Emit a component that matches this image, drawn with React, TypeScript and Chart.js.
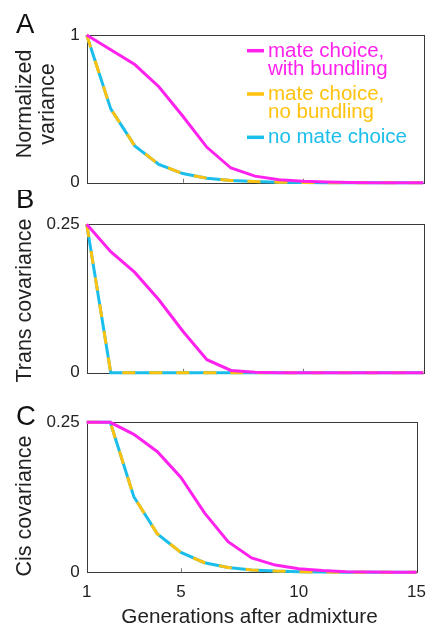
import React, { useEffect, useRef } from 'react';
import { Chart, registerables } from 'chart.js';

Chart.register(...registerables);

// ---------- data ----------
const generations = [1, 2, 3, 4, 5, 6, 7, 8, 9, 10, 11, 12, 13, 14, 15];
const xTickValues = [1, 5, 10, 15];
const xTitle = 'Generations after admixture';

// Panel A: normalized variance
const varWithBundling = [1, 0.9, 0.8, 0.65, 0.45, 0.24, 0.1, 0.045, 0.02, 0.01, 0.005, 0.002, 0.001, 0, 0];
const varNoBundling = [1, 0.5, 0.25, 0.125, 0.0625, 0.031, 0.016, 0.008, 0.004, 0.002, 0.001, 0.0005, 0.0002, 0.0001, 0];
const varNoMateChoice = [1, 0.5, 0.25, 0.125, 0.0625, 0.031, 0.016, 0.008, 0.004, 0.002, 0.001, 0.0005, 0.0002, 0.0001, 0];

// Panel B: trans covariance
const transWithBundling = [0.25, 0.204, 0.169, 0.123, 0.07, 0.022, 0.004, 0.001, 0, 0, 0, 0, 0, 0, 0];
const transNoBundling = [0.25, 0, 0, 0, 0, 0, 0, 0, 0, 0, 0, 0, 0, 0, 0];
const transNoMateChoice = [0.25, 0, 0, 0, 0, 0, 0, 0, 0, 0, 0, 0, 0, 0, 0];

// Panel C: cis covariance
const cisWithBundling = [0.25, 0.25, 0.23, 0.201, 0.158, 0.099, 0.051, 0.024, 0.012, 0.006, 0.003, 0.001, 0.0005, 0, 0];
const cisNoBundling = [0.25, 0.25, 0.126, 0.064, 0.033, 0.016, 0.008, 0.004, 0.002, 0.001, 0.0005, 0.0002, 0.0001, 0, 0];
const cisNoMateChoice = [0.25, 0.25, 0.126, 0.064, 0.033, 0.016, 0.008, 0.004, 0.002, 0.001, 0.0005, 0.0002, 0.0001, 0, 0];

const legendLabels = [['mate choice,', 'with bundling'], ['mate choice,', 'no bundling'], ['no mate choice']];

// ---------- styles ----------
const MAGENTA = '#ff22ee';
const ORANGE = '#ffc20e';
const CYAN = '#1bbeea';
const FONT = '"Liberation Sans", Arial, Helvetica, sans-serif';
const legendColors = [MAGENTA, ORANGE, CYAN];

type PanelCfg = {
  letter: string;
  letterBaseline: number;
  yTitle: string[];
  yTitleCenter: number;
  yMax: number;
  yTickText: string[];
  top: number;
  height: number;
  padTop: number;
  padBottom: number;
  series: number[][];
  showX: boolean;
  legend: boolean;
};

const panels: PanelCfg[] = [
  {
    letter: 'A', letterBaseline: 33, yTitle: ['Normalized', 'variance'], yTitleCenter: 104, yMax: 1, yTickText: ['0', '1'],
    top: 0, height: 200, padTop: 35, padBottom: 15.7,
    series: [varWithBundling, varNoBundling, varNoMateChoice], showX: false, legend: true,
  },
  {
    letter: 'B', letterBaseline: 18, yTitle: ['Trans covariance'], yTitleCenter: 110.5, yMax: 0.25, yTickText: ['0', '0.25'],
    top: 190, height: 200, padTop: 34.3, padBottom: 16.7,
    series: [transWithBundling, transNoBundling, transNoMateChoice], showX: false, legend: false,
  },
  {
    letter: 'C', letterBaseline: 35, yTitle: ['Cis covariance'], yTitleCenter: 116, yMax: 0.25, yTickText: ['0', '0.25'],
    top: 390, height: 236, padTop: 32.3, padBottom: 0,
    series: [cisWithBundling, cisNoBundling, cisNoMateChoice], showX: true, legend: false,
  },
];

function toPoints(values: number[]) {
  return generations.map((g, i) => ({ x: g, y: values[i] }));
}

function Panel({ cfg }: { cfg: PanelCfg }) {
  const ref = useRef<HTMLCanvasElement | null>(null);
  useEffect(() => {
    if (!ref.current) return;
    const yTicks = [0, cfg.yMax];
    const framePlugin = {
      id: 'frame',
      beforeDatasetsDraw(chart: any) {
        const { ctx, chartArea } = chart;
        const xs = chart.scales.x;
        ctx.save();
        ctx.strokeStyle = '#3a3a3a';
        ctx.lineWidth = 1;
        ctx.strokeRect(Math.round(chartArea.left) + 0.5, Math.round(chartArea.top) + 0.5,
          Math.round(chartArea.right - chartArea.left), Math.round(chartArea.bottom - chartArea.top));
        ctx.strokeStyle = '#777';
        [5, 10].forEach((v) => {
          const px = Math.round(xs.getPixelForValue(v)) + 0.5;
          ctx.beginPath();
          ctx.moveTo(px, chartArea.bottom);
          ctx.lineTo(px, chartArea.bottom - 4);
          ctx.stroke();
        });
        ctx.restore();
      },
      afterDraw(chart: any) {
        const { ctx } = chart;
        ctx.save();
        // panel letter
        ctx.fillStyle = '#111';
        ctx.font = `27.5px ${FONT}`;
        ctx.textBaseline = 'alphabetic';
        ctx.textAlign = 'left';
        ctx.fillText(cfg.letter, 16, cfg.letterBaseline);
        // y-axis title
        ctx.save();
        ctx.translate(25, cfg.yTitleCenter);
        ctx.rotate(-Math.PI / 2);
        ctx.font = `21.5px ${FONT}`;
        ctx.fillStyle = '#222';
        ctx.textAlign = 'center';
        ctx.textBaseline = 'middle';
        cfg.yTitle.forEach((line, i) => ctx.fillText(line, 0, i * 23.5));
        ctx.restore();
        // x-axis title (bottom panel only)
        if (cfg.showX) {
          ctx.font = `20.7px ${FONT}`;
          ctx.fillStyle = '#222';
          ctx.textAlign = 'center';
          ctx.textBaseline = 'alphabetic';
          ctx.fillText(xTitle, 249.5, 233);
        }
        // legend
        if (cfg.legend) {
          ctx.font = `20.5px ${FONT}`;
          ctx.textAlign = 'left';
          ctx.textBaseline = 'alphabetic';
          let y = 56.7;
          legendLabels.forEach((lines, i) => {
            ctx.strokeStyle = legendColors[i];
            ctx.lineWidth = 3.5;
            ctx.beginPath();
            ctx.moveTo(247, y - 6);
            ctx.lineTo(264, y - 6);
            ctx.stroke();
            ctx.fillStyle = legendColors[i];
            lines.forEach((line) => {
              ctx.fillText(line, 268, y);
              y += 18.3;
            });
            y += 6.7;
          });
        }
        ctx.restore();
      },
    };

    const chart = new Chart(ref.current, {
      type: 'line',
      data: {
        datasets: [
          {
            label: 'mate choice, with bundling',
            data: toPoints(cfg.series[0]),
            borderColor: MAGENTA,
            borderWidth: 3,
            pointRadius: 0,
            tension: 0,
            clip: 6,
          },
          {
            label: 'mate choice, no bundling',
            data: toPoints(cfg.series[1]),
            borderColor: ORANGE,
            borderWidth: 3,
            borderDash: [13, 14],
            pointRadius: 0,
            tension: 0,
            clip: 6,
          },
          {
            label: 'no mate choice',
            data: toPoints(cfg.series[2]),
            borderColor: CYAN,
            borderWidth: 3,
            pointRadius: 0,
            tension: 0,
            clip: 6,
          },
        ],
      },
      options: {
        animation: false,
        responsive: false,
        events: [],
        layout: { padding: { left: 0, right: 12.7, top: cfg.padTop, bottom: cfg.padBottom } },
        plugins: { legend: { display: false }, tooltip: { enabled: false } },
        scales: {
          x: {
            type: 'linear',
            min: 1,
            max: 15,
            display: cfg.showX,
            grid: { display: false, drawTicks: false },
            border: { display: false },
            afterBuildTicks: (scale: any) => {
              scale.ticks = xTickValues.map((v) => ({ value: v }));
            },
            afterFit: (scale: any) => {
              if (cfg.showX) scale.height = 236 - 182.3;
            },
            ticks: {
              color: '#222',
              font: { family: FONT, size: 17 },
              padding: 10,
              maxRotation: 0,
              callback: (v: any) => String(v),
            },
            title: { display: false },
          },
          y: {
            type: 'linear',
            min: 0,
            max: cfg.yMax,
            grid: { display: false, drawTicks: false },
            border: { display: false },
            afterBuildTicks: (scale: any) => {
              scale.ticks = yTicks.map((v) => ({ value: v }));
            },
            afterFit: (scale: any) => {
              scale.width = 86.7;
            },
            ticks: {
              color: '#222',
              font: { family: FONT, size: 17 },
              padding: 7,
              callback: (v: any, i: number) => cfg.yTickText[i],
            },
            title: { display: false },
          },
        },
      },
      plugins: [framePlugin],
    } as any);
    return () => chart.destroy();
  }, [cfg]);

  return (
    <canvas
      ref={ref}
      width={436}
      height={cfg.height}
      style={{ position: 'absolute', left: 0, top: cfg.top, width: 436, height: cfg.height, display: 'block' }}
    />
  );
}

export default function App() {
  return (
    <div style={{ position: 'absolute', left: 0, top: 0, width: 436, height: 626, background: '#fff', overflow: 'hidden' }}>
      {panels.map((p) => (
        <Panel key={p.letter} cfg={p} />
      ))}
    </div>
  );
}
